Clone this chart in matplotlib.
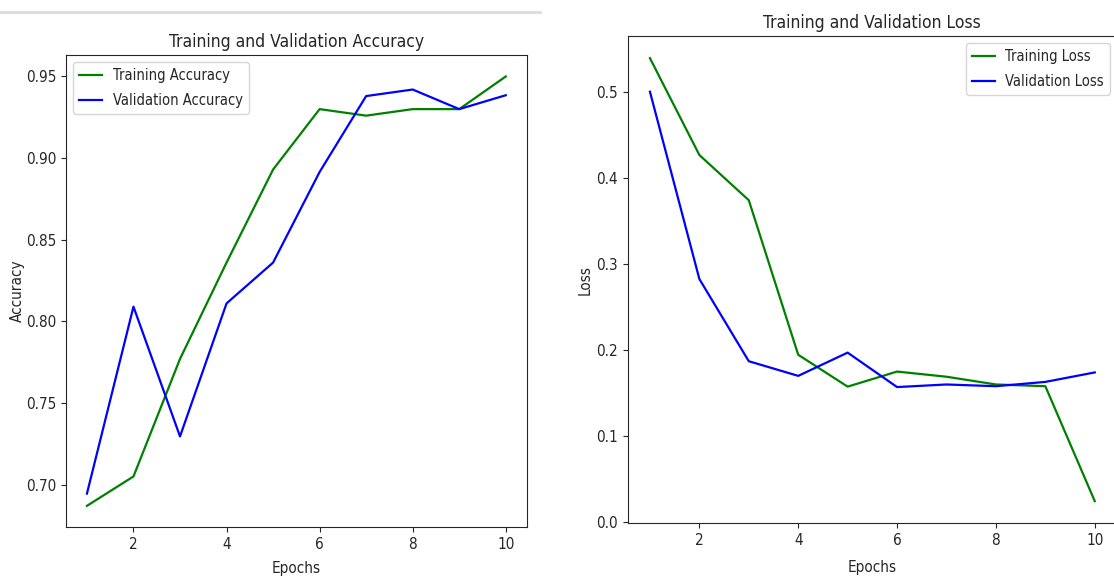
import matplotlib
matplotlib.use("Agg")
import matplotlib.pyplot as plt
import matplotlib.font_manager as fm
from matplotlib.lines import Line2D

# ---- data -------------------------------------------------------------
epochs = [1, 2, 3, 4, 5, 6, 7, 8, 9, 10]

train_acc = [0.687, 0.705, 0.777, 0.836, 0.893, 0.930, 0.926, 0.930, 0.930, 0.950]
val_acc = [0.6945, 0.809, 0.7295, 0.811, 0.836, 0.8915, 0.938, 0.942, 0.930, 0.9385]

train_loss = [0.539, 0.4265, 0.374, 0.1945, 0.1575, 0.175, 0.169, 0.160, 0.158, 0.0245]
val_loss = [0.500, 0.2825, 0.187, 0.170, 0.197, 0.157, 0.160, 0.158, 0.163, 0.174]

# ---- font: a narrow sans face, chosen by file -------------------------------
def pick_font_file():
    by_file = {f.fname.split("/")[-1]: f.fname for f in fm.fontManager.ttflist}
    for fname in ["DejaVuSansCondensed.ttf", "NotoSans-Condensed.ttf",
                  "LiberationSansNarrow-Regular.ttf"]:
        if fname in by_file:
            return by_file[fname]
    return None

font_file = pick_font_file()


def fp(size):
    if font_file is not None:
        return fm.FontProperties(fname=font_file, size=size)
    return fm.FontProperties(family="DejaVu Sans", size=size)


ink = "#262626"
plt.rcParams["text.color"] = ink
plt.rcParams["axes.labelcolor"] = ink
plt.rcParams["xtick.color"] = ink
plt.rcParams["ytick.color"] = ink
plt.rcParams["axes.edgecolor"] = ink

W, H = 1114, 578
fig = plt.figure(figsize=(W / 100, H / 100), dpi=100)


def px_axes(x0, x1, ytop, ybot):
    return fig.add_axes([x0 / W, (H - ybot) / H, (x1 - x0) / W, (ybot - ytop) / H])


ax1 = px_axes(66, 526.7, 55, 527.3)
ax2 = px_axes(627.7, 1117, 36, 523.3)

fs_tick = 11
fs_label = 11
fs_title = 12.5
fs_leg = 10.5
leg_kw = dict(handlelength=1.6, labelspacing=0.7, handletextpad=0.7)

# accuracy panel
ax1.plot(epochs, train_acc, color="green", lw=1.6, label="Training Accuracy")
ax1.plot(epochs, val_acc, color="blue", lw=1.6, label="Validation Accuracy")
ax1.set_title("Training and Validation Accuracy", fontproperties=fp(fs_title))
ax1.set_xlabel("Epochs", fontproperties=fp(fs_label))
ax1.set_ylabel("Accuracy", fontproperties=fp(fs_label))
ax1.legend(loc="upper left", prop=fp(fs_leg), **leg_kw)
ax1.xaxis.set_label_coords(0.5, -0.071)
ax1.yaxis.set_label_coords(-0.089, 0.5)

# loss panel
ax2.plot(epochs, train_loss, color="green", lw=1.6, label="Training Loss")
ax2.plot(epochs, val_loss, color="blue", lw=1.6, label="Validation Loss")
ax2.set_title("Training and Validation Loss", fontproperties=fp(fs_title))
ax2.set_xlabel("Epochs", fontproperties=fp(fs_label))
ax2.set_ylabel("Loss", fontproperties=fp(fs_label))
ax2.legend(loc="upper right", prop=fp(fs_leg), **leg_kw)
ax2.xaxis.set_label_coords(0.5, -0.075)
ax2.yaxis.set_label_coords(-0.071, 0.5)

for ax in (ax1, ax2):
    for lab in ax.get_xticklabels() + ax.get_yticklabels():
        lab.set_fontproperties(fp(fs_tick))

# thin separator line along the top of the left panel
fig.add_artist(Line2D([0, 540 / W], [1 - 12 / H, 1 - 12 / H],
                      transform=fig.transFigure, color="#dcdcdc", lw=2))

fig.savefig("out.png", dpi=100)
